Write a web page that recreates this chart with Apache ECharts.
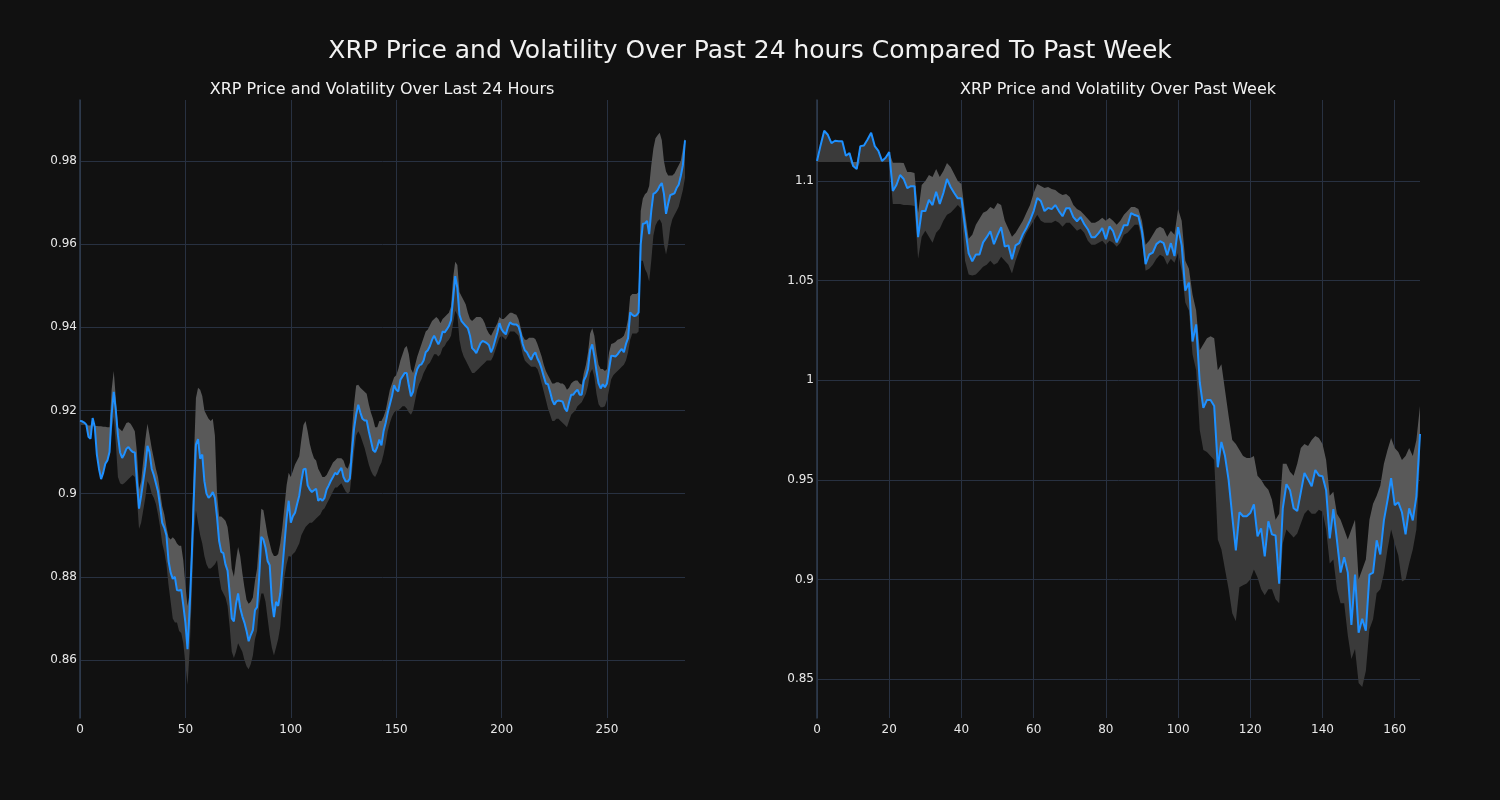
<!DOCTYPE html>
<html>
<head>
<meta charset="utf-8">
<script src="https://cdn.jsdelivr.net/npm/echarts@6/dist/echarts.min.js"></script>
<style>
html,body{margin:0;padding:0;background:#111111;}
#chart{width:1500px;height:800px;}
</style>
</head>
<body>
<div id="chart"></div>
<script>
// ---------- Data: last 24 hours (5-minute steps) ----------
const dayPrice = [
0.9175,0.9174,0.9171,0.9166,0.9137,0.9132,0.9182,0.9161,0.9094,0.9060,
0.9035,0.9050,0.9072,0.9080,0.9100,0.9190,0.9245,0.9200,0.9140,0.9099,
0.9086,0.9095,0.9108,0.9112,0.9105,0.9100,0.9099,0.9030,0.8964,0.8995,
0.9030,0.9065,0.9115,0.9100,0.9060,0.9045,0.9025,0.9005,0.8970,0.8930,
0.8918,0.8900,0.8838,0.8810,0.8795,0.8800,0.8768,0.8767,0.8769,0.8732,
0.8690,0.8626,0.8722,0.8848,0.8990,0.9118,0.9131,0.9084,0.9094,0.9030,
0.9000,0.8990,0.8995,0.9004,0.8990,0.8944,0.8886,0.8860,0.8857,0.8830,
0.8815,0.8760,0.8700,0.8693,0.8735,0.8760,0.8725,0.8705,0.8690,0.8670,
0.8645,0.8660,0.8672,0.8720,0.8727,0.8800,0.8896,0.8890,0.8870,0.8838,
0.8828,0.8742,0.8703,0.8740,0.8730,0.8760,0.8820,0.8880,0.8940,0.8983,
0.8930,0.8946,0.8954,0.8975,0.8995,0.9030,0.9058,0.9060,0.9020,0.9010,
0.9004,0.9008,0.9012,0.8983,0.8988,0.8983,0.8990,0.9010,0.9020,0.9031,
0.9040,0.9050,0.9046,0.9055,0.9062,0.9040,0.9030,0.9029,0.9036,0.9100,
0.9156,0.9190,0.9214,0.9195,0.9180,0.9176,0.9176,0.9150,0.9128,0.9105,
0.9100,0.9112,0.9130,0.9116,0.9150,0.9170,0.9195,0.9215,0.9235,0.9261,
0.9250,0.9246,0.9274,0.9282,0.9290,0.9290,0.9260,0.9234,0.9245,0.9282,
0.9300,0.9309,0.9311,0.9320,0.9340,0.9345,0.9355,0.9370,0.9380,0.9369,
0.9359,0.9370,0.9390,0.9388,0.9395,0.9403,0.9417,0.9470,0.9523,0.9495,
0.9430,0.9415,0.9409,0.9403,0.9398,0.9380,0.9350,0.9345,0.9338,0.9350,
0.9362,0.9367,0.9365,0.9362,0.9357,0.9340,0.9352,0.9370,0.9388,0.9410,
0.9395,0.9388,0.9383,0.9400,0.9412,0.9408,0.9407,0.9407,0.9402,0.9385,
0.9360,0.9345,0.9340,0.9330,0.9322,0.9334,0.9340,0.9325,0.9315,0.9300,
0.9282,0.9265,0.9263,0.9245,0.9225,0.9214,0.9222,0.9224,0.9223,0.9221,
0.9205,0.9198,0.9220,0.9238,0.9238,0.9245,0.9250,0.9238,0.9238,0.9272,
0.9282,0.9300,0.9345,0.9359,0.9330,0.9295,0.9265,0.9253,0.9263,0.9256,
0.9265,0.9300,0.9332,0.9331,0.9330,0.9335,0.9342,0.9348,0.9340,0.9360,
0.9374,0.9436,0.9430,0.9427,0.9429,0.9436,0.9600,0.9649,0.9650,0.9656,
0.9624,0.9680,0.9721,0.9724,0.9730,0.9740,0.9747,0.9721,0.9673,0.9697,
0.9718,0.9720,0.9722,0.9735,0.9743,0.9764,0.9790,0.9850
];
const dayUpper = [
0.9176,0.9175,0.9172,0.9166,0.9164,0.9164,0.9183,0.9163,0.9163,0.9162,
0.9162,0.9161,0.9161,0.9160,0.9160,0.9250,0.9295,0.9230,0.9160,0.9155,
0.9150,0.9160,0.9170,0.9172,0.9168,0.9160,0.9150,0.9100,0.9010,0.9030,
0.9080,0.9130,0.9168,0.9140,0.9110,0.9085,0.9060,0.9040,0.9005,0.8970,
0.8950,0.8920,0.8895,0.8890,0.8895,0.8890,0.8880,0.8875,0.8875,0.8840,
0.8780,0.8730,0.8760,0.8900,0.9080,0.9230,0.9255,0.9250,0.9235,0.9200,
0.9190,0.9180,0.9175,0.9180,0.9140,0.9000,0.8945,0.8945,0.8940,0.8935,
0.8920,0.8880,0.8820,0.8800,0.8840,0.8872,0.8850,0.8810,0.8775,0.8745,
0.8735,0.8740,0.8750,0.8790,0.8820,0.8890,0.8964,0.8960,0.8930,0.8900,
0.8880,0.8860,0.8850,0.8850,0.8855,0.8880,0.8920,0.8970,0.9020,0.9050,
0.9040,0.9055,0.9070,0.9080,0.9090,0.9130,0.9165,0.9175,0.9150,0.9120,
0.9100,0.9085,0.9080,0.9060,0.9050,0.9040,0.9040,0.9045,0.9055,0.9065,
0.9075,0.9080,0.9085,0.9085,0.9085,0.9080,0.9065,0.9060,0.9075,0.9150,
0.9215,0.9260,0.9262,0.9255,0.9250,0.9245,0.9240,0.9215,0.9195,0.9180,
0.9160,0.9160,0.9175,0.9175,0.9185,0.9200,0.9225,0.9250,0.9265,0.9280,
0.9285,0.9300,0.9320,0.9335,0.9350,0.9355,0.9335,0.9300,0.9290,0.9310,
0.9330,0.9345,0.9360,0.9375,0.9390,0.9395,0.9405,0.9415,0.9420,0.9425,
0.9420,0.9410,0.9420,0.9425,0.9430,0.9435,0.9450,0.9520,0.9558,0.9550,
0.9485,0.9475,0.9465,0.9455,0.9435,0.9420,0.9415,0.9420,0.9425,0.9425,
0.9425,0.9420,0.9410,0.9395,0.9385,0.9380,0.9390,0.9400,0.9410,0.9425,
0.9420,0.9420,0.9425,0.9430,0.9435,0.9435,0.9432,0.9430,0.9420,0.9400,
0.9380,0.9370,0.9370,0.9375,0.9375,0.9375,0.9372,0.9360,0.9345,0.9330,
0.9310,0.9295,0.9285,0.9275,0.9265,0.9265,0.9268,0.9268,0.9265,0.9265,
0.9260,0.9250,0.9255,0.9265,0.9270,0.9272,0.9272,0.9265,0.9262,0.9290,
0.9310,0.9340,0.9385,0.9398,0.9380,0.9340,0.9310,0.9300,0.9300,0.9295,
0.9300,0.9340,0.9360,0.9362,0.9365,0.9370,0.9372,0.9375,0.9380,0.9395,
0.9420,0.9475,0.9480,0.9480,0.9480,0.9485,0.9680,0.9710,0.9720,0.9725,
0.9740,0.9790,0.9830,0.9855,0.9862,0.9868,0.9850,0.9800,0.9775,0.9765,
0.9765,0.9765,0.9770,0.9780,0.9790,0.9800,0.9830,0.9855
];
const dayLower = [
0.9165,0.9165,0.9165,0.9164,0.9137,0.9132,0.9163,0.9161,0.9094,0.9060,
0.9035,0.9050,0.9072,0.9080,0.9100,0.9150,0.9185,0.9120,0.9040,0.9025,
0.9022,0.9025,0.9030,0.9035,0.9040,0.9045,0.9040,0.8990,0.8915,0.8930,
0.8960,0.8990,0.9030,0.9020,0.9000,0.8990,0.8975,0.8950,0.8920,0.8880,
0.8860,0.8830,0.8780,0.8740,0.8700,0.8690,0.8690,0.8670,0.8665,0.8640,
0.8590,0.8540,0.8620,0.8750,0.8900,0.8960,0.8930,0.8900,0.8880,0.8850,
0.8830,0.8820,0.8820,0.8825,0.8830,0.8840,0.8800,0.8770,0.8760,0.8750,
0.8730,0.8680,0.8620,0.8605,0.8620,0.8640,0.8630,0.8620,0.8600,0.8585,
0.8578,0.8590,0.8610,0.8650,0.8670,0.8730,0.8760,0.8760,0.8740,0.8700,
0.8660,0.8630,0.8611,0.8630,0.8650,0.8680,0.8740,0.8800,0.8830,0.8850,
0.8848,0.8855,0.8860,0.8870,0.8880,0.8900,0.8910,0.8920,0.8925,0.8930,
0.8930,0.8935,0.8940,0.8945,0.8950,0.8960,0.8965,0.8975,0.8985,0.8995,
0.9005,0.9015,0.9015,0.9020,0.9025,0.9015,0.9005,0.9000,0.9005,0.9050,
0.9100,0.9140,0.9150,0.9140,0.9125,0.9110,0.9090,0.9070,0.9055,0.9045,
0.9040,0.9050,0.9065,0.9075,0.9095,0.9120,0.9150,0.9170,0.9185,0.9195,
0.9200,0.9200,0.9205,0.9210,0.9210,0.9205,0.9195,0.9190,0.9200,0.9225,
0.9250,0.9265,0.9275,0.9290,0.9300,0.9310,0.9315,0.9325,0.9335,0.9335,
0.9330,0.9335,0.9350,0.9355,0.9365,0.9370,0.9380,0.9410,0.9440,0.9430,
0.9370,0.9345,0.9330,0.9320,0.9310,0.9300,0.9290,0.9290,0.9295,0.9300,
0.9305,0.9310,0.9315,0.9320,0.9320,0.9320,0.9330,0.9345,0.9360,0.9375,
0.9380,0.9375,0.9370,0.9380,0.9390,0.9390,0.9390,0.9385,0.9380,0.9360,
0.9335,0.9320,0.9315,0.9310,0.9305,0.9305,0.9305,0.9300,0.9285,0.9265,
0.9245,0.9225,0.9205,0.9190,0.9175,0.9175,0.9180,0.9180,0.9175,0.9170,
0.9165,0.9160,0.9175,0.9190,0.9195,0.9200,0.9210,0.9215,0.9220,0.9230,
0.9240,0.9260,0.9290,0.9300,0.9280,0.9240,0.9215,0.9208,0.9208,0.9210,
0.9225,0.9250,0.9275,0.9285,0.9290,0.9295,0.9300,0.9305,0.9310,0.9320,
0.9340,0.9370,0.9385,0.9385,0.9385,0.9390,0.9560,0.9560,0.9540,0.9530,
0.9510,0.9560,0.9620,0.9645,0.9655,0.9660,0.9650,0.9600,0.9575,0.9600,
0.9640,0.9660,0.9670,0.9680,0.9690,0.9710,0.9730,0.9760
];

// ---------- Data: past week (hourly steps) ----------
const weekPrice = [
1.1100,1.1180,1.1252,1.1232,1.1190,1.1202,1.1200,1.1200,1.1127,1.1140,
1.1075,1.1060,1.1175,1.1178,1.1208,1.1242,1.1175,1.1151,1.1101,1.1117,
1.1145,1.0950,1.0980,1.1030,1.1010,1.0964,1.0974,1.0974,1.0718,1.0849,
1.0849,1.0905,1.0879,1.0946,1.0885,1.0940,1.1010,1.0970,1.0940,1.0913,
1.0913,1.0768,1.0637,1.0597,1.0631,1.0631,1.0692,1.0718,1.0748,1.0683,
1.0728,1.0768,1.0671,1.0677,1.0607,1.0677,1.0688,1.0732,1.0764,1.0802,
1.0849,1.0915,1.0899,1.0849,1.0865,1.0859,1.0879,1.0849,1.0823,1.0863,
1.0863,1.0819,1.0798,1.0819,1.0784,1.0758,1.0718,1.0718,1.0738,1.0764,
1.0708,1.0772,1.0748,1.0692,1.0732,1.0778,1.0778,1.0839,1.0829,1.0823,
1.0748,1.0583,1.0631,1.0641,1.0683,1.0698,1.0688,1.0627,1.0688,1.0623,
1.0768,1.0677,1.0450,1.0490,1.0194,1.0280,0.9990,0.9861,0.9901,0.9901,
0.9871,0.9563,0.9690,0.9619,0.9498,0.9317,0.9145,0.9337,0.9317,0.9317,
0.9333,0.9377,0.9216,0.9256,0.9115,0.9292,0.9226,0.9220,0.8978,0.9357,
0.9478,0.9448,0.9357,0.9343,0.9438,0.9534,0.9502,0.9468,0.9549,0.9522,
0.9518,0.9448,0.9206,0.9353,0.9196,0.9034,0.9111,0.9034,0.8772,0.9024,
0.8732,0.8802,0.8742,0.9024,0.9034,0.9196,0.9125,0.9296,0.9397,0.9508,
0.9373,0.9387,0.9337,0.9226,0.9357,0.9296,0.9417,0.9730
];
const weekUpper = [
1.1100,1.1180,1.1252,1.1232,1.1190,1.1202,1.1200,1.1200,1.1127,1.1140,
1.1095,1.1095,1.1175,1.1178,1.1208,1.1242,1.1175,1.1151,1.1101,1.1117,
1.1145,1.1092,1.1092,1.1092,1.1090,1.1045,1.1045,1.1040,1.0840,1.0980,
1.1000,1.1030,1.1020,1.1060,1.1020,1.1050,1.1090,1.1070,1.1035,1.1000,
1.0985,1.0840,1.0710,1.0730,1.0780,1.0810,1.0840,1.0850,1.0870,1.0860,
1.0890,1.0880,1.0800,1.0760,1.0720,1.0740,1.0770,1.0800,1.0840,1.0880,
1.0940,1.0985,1.0975,1.0965,1.0970,1.0960,1.0955,1.0940,1.0930,1.0935,
1.0920,1.0880,1.0860,1.0850,1.0830,1.0810,1.0790,1.0790,1.0800,1.0815,
1.0800,1.0815,1.0800,1.0780,1.0800,1.0830,1.0850,1.0870,1.0870,1.0860,
1.0800,1.0680,1.0700,1.0730,1.0760,1.0770,1.0760,1.0720,1.0750,1.0730,
1.0860,1.0800,1.0600,1.0560,1.0430,1.0350,1.0150,1.0180,1.0210,1.0220,
1.0210,1.0050,1.0080,0.9950,0.9820,0.9700,0.9680,0.9650,0.9620,0.9610,
0.9610,0.9620,0.9520,0.9500,0.9470,0.9450,0.9400,0.9300,0.9330,0.9580,
0.9580,0.9540,0.9520,0.9580,0.9660,0.9680,0.9670,0.9700,0.9720,0.9710,
0.9680,0.9600,0.9420,0.9440,0.9330,0.9300,0.9250,0.9200,0.9250,0.9300,
0.9000,0.9050,0.9100,0.9300,0.9380,0.9420,0.9470,0.9580,0.9650,0.9710,
0.9660,0.9640,0.9600,0.9620,0.9660,0.9620,0.9700,0.9870
];
const weekLower = [
1.1095,1.1095,1.1095,1.1095,1.1095,1.1095,1.1095,1.1095,1.1095,1.1095,
1.1075,1.1060,1.1095,1.1095,1.1095,1.1095,1.1095,1.1095,1.1095,1.1095,
1.1095,1.0885,1.0885,1.0885,1.0880,1.0880,1.0878,1.0875,1.0610,1.0720,
1.0750,1.0720,1.0690,1.0740,1.0760,1.0800,1.0830,1.0840,1.0860,1.0880,
1.0860,1.0600,1.0530,1.0525,1.0530,1.0550,1.0570,1.0580,1.0600,1.0580,
1.0590,1.0620,1.0600,1.0580,1.0535,1.0600,1.0650,1.0700,1.0740,1.0770,
1.0800,1.0830,1.0800,1.0790,1.0790,1.0790,1.0800,1.0790,1.0770,1.0790,
1.0790,1.0770,1.0750,1.0760,1.0740,1.0700,1.0680,1.0680,1.0690,1.0700,
1.0680,1.0700,1.0690,1.0670,1.0690,1.0730,1.0740,1.0760,1.0780,1.0780,
1.0700,1.0550,1.0560,1.0580,1.0610,1.0630,1.0620,1.0580,1.0610,1.0590,
1.0640,1.0550,1.0390,1.0350,1.0130,1.0050,0.9750,0.9650,0.9640,0.9620,
0.9600,0.9200,0.9150,0.9050,0.8950,0.8830,0.8790,0.8960,0.8970,0.8980,
0.9000,0.9050,0.9010,0.8950,0.8920,0.8950,0.8950,0.8900,0.8880,0.9180,
0.9250,0.9230,0.9210,0.9230,0.9280,0.9330,0.9350,0.9330,0.9330,0.9350,
0.9340,0.9250,0.9080,0.9100,0.8950,0.8880,0.8880,0.8720,0.8600,0.8650,
0.8480,0.8460,0.8540,0.8750,0.8800,0.8930,0.8950,0.9030,0.9150,0.9250,
0.9180,0.9120,0.8990,0.9000,0.9080,0.9150,0.9250,0.9600
];

// ---------- Axis ticks ----------
const dayXTicks = [0, 50, 100, 150, 200, 250];
const dayYTicks = [0.86, 0.88, 0.9, 0.92, 0.94, 0.96, 0.98];
const weekXTicks = [0, 20, 40, 60, 80, 100, 120, 140, 160];
const weekYTicks = [0.85, 0.9, 0.95, 1, 1.05, 1.1];

const mainTitle = 'XRP Price and Volatility Over Past 24 hours Compared To Past Week';
const dayTitle = 'XRP Price and Volatility Over Last 24 Hours';
const weekTitle = 'XRP Price and Volatility Over Past Week';

// ---------- Build ----------
const FONT = 'DejaVu Sans';
const GRID_COLOR = '#283141';
const SPINE_COLOR = '#2f3c4f';
const DARK = '#3a3a3a';
const LIGHT = '#595959';
const BLUE = '#1e90ff';

function pairs(arr) { return arr.map((v, i) => [i, v]); }

// Band polygons drawn through the axes' own coordinate mapping (api.coord)
function bandPolygon(edgeA, edgeB, color, idx) {
  return {
    type: 'custom', xAxisIndex: idx, yAxisIndex: idx, silent: true, z: 1,
    clip: true,
    data: [[0, edgeA[0]]],
    renderItem: function (params, api) {
      const pts = [];
      for (let i = 0; i < edgeA.length; i++) pts.push(api.coord([i, edgeA[i]]));
      for (let i = edgeB.length - 1; i >= 0; i--) pts.push(api.coord([i, edgeB[i]]));
      return { type: 'polygon', shape: { points: pts }, style: { fill: color, stroke: null } };
    }
  };
}

function panelSeries(price, upper, lower, idx) {
  return [
    bandPolygon(lower, price, DARK, idx),
    bandPolygon(price, upper, LIGHT, idx),
    { type: 'line', xAxisIndex: idx, yAxisIndex: idx, data: pairs(price), symbol: 'none',
      lineStyle: { color: BLUE, width: 2 }, z: 5, silent: true }
  ];
}

function xAxis(idx, max, ticks) {
  return {
    type: 'value', gridIndex: idx, min: 0, max: max,
    axisLine: { show: false },
    axisTick: { show: false, customValues: ticks },
    axisLabel: { customValues: ticks, color: '#e8e8e8', fontFamily: FONT, fontSize: 12, margin: 6 },
    splitLine: { show: true, lineStyle: { color: GRID_COLOR, width: 1 } }
  };
}
function yAxis(idx, min, max, ticks) {
  return {
    type: 'value', gridIndex: idx, min: min, max: max, scale: true,
    axisLine: { show: true, onZero: false, lineStyle: { color: SPINE_COLOR, width: 1.5 } },
    axisTick: { show: false, customValues: ticks },
    axisLabel: { customValues: ticks, color: '#e8e8e8', fontFamily: FONT, fontSize: 12, margin: 3 },
    splitLine: { show: true, lineStyle: { color: GRID_COLOR, width: 1 } }
  };
}

const chart = echarts.init(document.getElementById('chart'), null, { renderer: 'canvas' });
chart.setOption({
  backgroundColor: '#111111',
  animation: false,
  title: [
    { text: mainTitle, left: 'center', top: 39, padding: 0,
      textStyle: { color: '#f2f2f2', fontFamily: FONT, fontSize: 25, fontWeight: 'normal' } },
    { text: dayTitle, left: 382, top: 82, padding: 0, textAlign: 'center',
      textStyle: { color: '#f2f2f2', fontFamily: FONT, fontSize: 16, fontWeight: 'normal' } },
    { text: weekTitle, left: 1118, top: 82, padding: 0, textAlign: 'center',
      textStyle: { color: '#f2f2f2', fontFamily: FONT, fontSize: 16, fontWeight: 'normal' } }
  ],
  grid: [
    { left: 80, top: 100, width: 605, height: 618, containLabel: false },
    { left: 817, top: 100, width: 603, height: 618, containLabel: false }
  ],
  xAxis: [ xAxis(0, 287, dayXTicks), xAxis(1, 167, weekXTicks) ],
  yAxis: [ yAxis(0, 0.84605, 0.99467, dayYTicks), yAxis(1, 0.83042, 1.14066, weekYTicks) ],
  series: [].concat(
    panelSeries(dayPrice, dayUpper, dayLower, 0),
    panelSeries(weekPrice, weekUpper, weekLower, 1)
  )
});
</script>
</body>
</html>
